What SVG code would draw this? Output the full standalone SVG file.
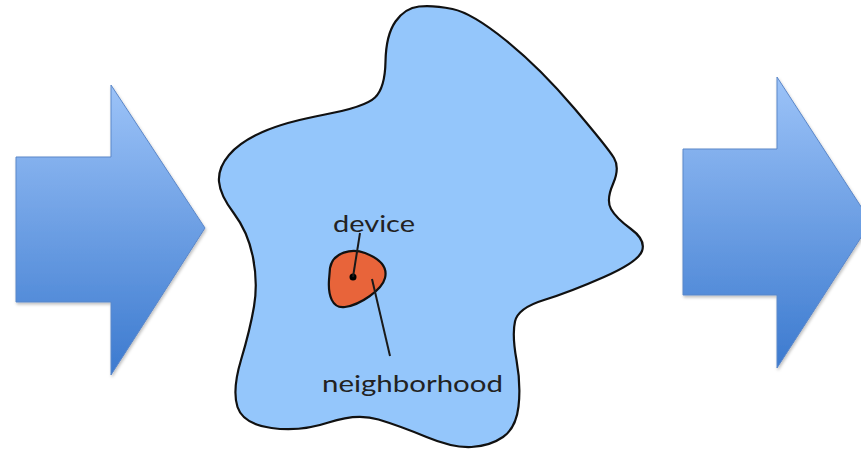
<svg xmlns="http://www.w3.org/2000/svg" width="861" height="456" viewBox="0 0 861 456">
  <style>
    .arrow { fill: url(#arrowGrad); stroke: #5b87c9; stroke-width: 1; filter: url(#soft); }
    .region { fill: #94c6fb; stroke: #111; stroke-width: 2.2; }
    .hood { fill: #e8643a; stroke: #111; stroke-width: 2.2; }
    .leader { stroke: #1a1a1a; stroke-width: 2; fill: none; }
    .label { font-family: Lato, "Liberation Sans", sans-serif; font-size: 24px; fill: #222; }
  </style>
  <defs>
    <linearGradient id="arrowGrad" x1="0" y1="0" x2="0" y2="1">
      <stop offset="0" stop-color="#9cc3f8"/>
      <stop offset="1" stop-color="#3c7acf"/>
    </linearGradient>
    <filter id="soft" x="-10%" y="-10%" width="130%" height="130%">
      <feDropShadow dx="1" dy="2" stdDeviation="1.5" flood-color="#000" flood-opacity="0.25"/>
    </filter>
  </defs>

  <!-- incoming arrow -->
  <g id="arrow-in">
    <polygon class="arrow" points="16,157 111,157 111,85 205,228 111,375 111,302 16,302"/>
  </g>

  <!-- outgoing arrow (runs off the right edge) -->
  <g id="arrow-out">
    <polygon class="arrow" points="683,149 777,149 777,77 871,222 777,368 777,295 683,295"/>
  </g>

  <!-- the whole region -->
  <g id="region">
    <path class="region" d="M419,6.5 Q433,5 452.5,9 Q472,13 506,40.5 Q540,68 574,108 Q608,148 614,158 Q620,168 613,184 Q606,200 611,209 Q616,218 631,229 Q646,240 642,251 Q638,262 604,277 Q570,292 544,300 Q518,308 515,321.5 Q512,335 516.5,360 Q521,385 518.5,406.5 Q516,428 503,437 Q490,446 471.5,447 Q453,448 426.5,437 Q400,426 378.5,419.5 Q357,413 328.5,422.5 Q300,432 271.5,428 Q243,424 237.5,407 Q232,390 241,360 Q250,330 254,306.5 Q258,283 253,257.5 Q248,232 234,213.5 Q220,195 219,181.5 Q218,168 229,155 Q240,142 262.5,132 Q285,122 325,114.5 Q365,107 375,97.5 Q385,88 385.5,61.5 Q386,35 395.5,21.5 Q405,8 419,6.5 Z"/>
  </g>

  <!-- neighborhood around the device -->
  <g id="neighborhood">
    <path class="hood" d="M330,268 C333,252 352,248 365,253 C378,258 388,266 385,278 C382,290 360,305 345,307 C332,309 328,295 329,280 Z"/>
    <text class="label" x="322" y="392" textLength="181" lengthAdjust="spacingAndGlyphs">neighborhood</text>
  </g>

  <!-- the device itself -->
  <g id="device">
    <circle cx="353" cy="277" r="3.5" fill="#000"/>
    <text class="label" x="333" y="232" textLength="82" lengthAdjust="spacingAndGlyphs">device</text>
  </g>

  <!-- leader lines from labels -->
  <g id="connectors">
    <line class="leader" x1="360" y1="233" x2="353" y2="277"/>
    <line class="leader" x1="372" y1="279" x2="390" y2="356"/>
  </g>
</svg>
